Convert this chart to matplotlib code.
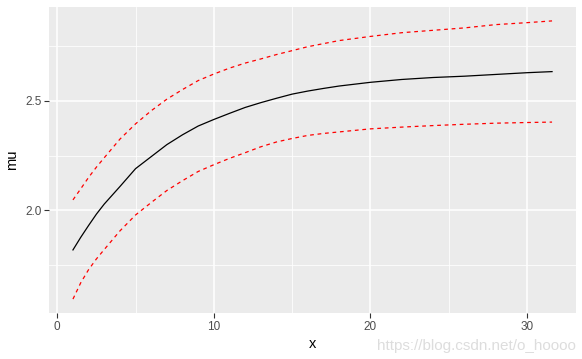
import numpy as np
import matplotlib.pyplot as plt
from matplotlib.ticker import MultipleLocator

plt.rcParams['font.family'] = ['Liberation Sans', 'DejaVu Sans']

x = [1, 1.5, 2, 2.5, 3, 4, 5, 6, 7, 8, 9, 10, 11, 12, 13, 14, 15, 16, 17, 18,
     20, 22, 24, 26, 28, 30, 31.6]
mu = [1.818, 1.876, 1.93, 1.982, 2.028, 2.108, 2.19, 2.245, 2.30, 2.345, 2.385,
      2.415, 2.443, 2.47, 2.492, 2.512, 2.531, 2.545, 2.557, 2.568, 2.585,
      2.598, 2.607, 2.613, 2.621, 2.629, 2.634]
upper = [2.047, 2.098, 2.15, 2.197, 2.24, 2.325, 2.395, 2.455, 2.508, 2.552, 2.593,
         2.623, 2.65, 2.673, 2.692, 2.712, 2.73, 2.748, 2.762, 2.776, 2.795,
         2.812, 2.823, 2.834, 2.849, 2.858, 2.866]
lower = [1.593, 1.668, 1.728, 1.777, 1.82, 1.905, 1.978, 2.035, 2.09, 2.135, 2.177,
         2.208, 2.237, 2.263, 2.29, 2.312, 2.328, 2.342, 2.351, 2.358, 2.372,
         2.38, 2.387, 2.393, 2.398, 2.401, 2.403]

fig = plt.figure(figsize=(5.82, 3.59), dpi=100)
ax = fig.add_axes([49/582, 1-313/359, (576-49)/582, (313-7)/359])

ax.set_facecolor('#EBEBEB')
for s in ax.spines.values():
    s.set_visible(False)

ax.plot(x, mu, color='black', lw=0.9)
ax.plot(x, upper, color='red', lw=0.9, dashes=(3, 3))
ax.plot(x, lower, color='red', lw=0.9, dashes=(3, 3))

# ggplot style expansion 5%
xr = max(x) - min(x)
allv = np.concatenate([mu, upper, lower])
yr = allv.max() - allv.min()
ax.set_xlim(min(x) - 0.05*xr, max(x) + 0.05*xr)
ax.set_ylim(allv.min() - 0.05*yr, allv.max() + 0.05*yr)

ax.xaxis.set_major_locator(MultipleLocator(10))
ax.xaxis.set_minor_locator(MultipleLocator(5))
ax.yaxis.set_major_locator(MultipleLocator(0.5))
ax.yaxis.set_minor_locator(MultipleLocator(0.25))
ax.set_yticks([2.0, 2.5])
ax.set_yticklabels(['2.0', '2.5'])

ax.grid(which='major', color='white', lw=1.1)
ax.grid(which='minor', color='white', lw=0.55)
ax.set_axisbelow(True)

ax.tick_params(which='major', length=3.5, width=0.8, color='#333333',
               labelsize=8.5, labelcolor='#4D4D4D', pad=2)
ax.tick_params(which='minor', length=0)

ax.set_xlabel('x', fontsize=10.5, labelpad=3)
ax.set_ylabel('mu', fontsize=10.5, labelpad=4)

fig.text(0.99, 0.035, 'https://blog.csdn.net/o_hoooo', ha='right', va='center',
         fontsize=11, color='#dddddd')

fig.savefig('out.png', dpi=100)
